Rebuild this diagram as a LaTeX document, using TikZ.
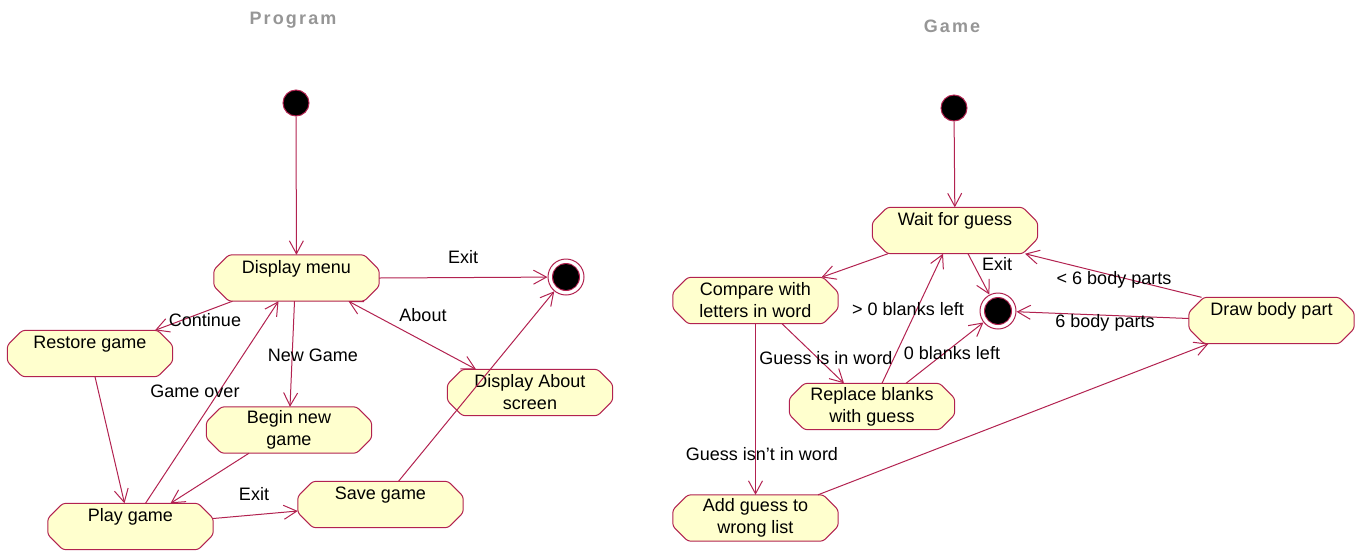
\documentclass[tikz,border=0pt]{standalone}
\usepackage{fontspec}
\setmainfont{Liberation Sans}
\usetikzlibrary{arrows.meta,backgrounds}
\definecolor{edgec}{RGB}{178,34,80}
\definecolor{fillc}{RGB}{255,255,206}
\definecolor{titlec}{RGB}{150,150,150}
\begin{document}
\begin{tikzpicture}[x=1pt,y=-1pt,
  font=\fontsize{18}{22}\selectfont,
  statebox/.style={rectangle, minimum width=165pt, minimum height=46pt,
    inner sep=0pt, align=center},
  oneline/.style={statebox, text height=13pt, text depth=23pt},
  twoline/.style={statebox, yshift=-1.5pt},
  stateshape/.style={draw=edgec, fill=fillc, line width=1pt, rounded corners=3pt},
  initdot/.style={circle, draw=edgec, fill=black, line width=1pt, minimum size=26pt, inner sep=0pt},
  finaldot/.style={circle, draw=edgec, fill=white, line width=1pt, minimum size=36pt, inner sep=0pt,
    path picture={\fill[edgec] (path picture bounding box.center) circle (14pt);
                  \fill[black] (path picture bounding box.center) circle (13pt);}},
  edge/.style={draw=edgec, line width=1pt, -{Straight Barb[length=13pt,width=14pt]}},
  lbl/.style={inner sep=0pt, text=black},
  titlelbl/.style={inner sep=0pt, text=titlec, font=\bfseries\fontsize{18}{22}\selectfont\addfontfeature{LetterSpace=12}}
]
\useasboundingbox (0,0) rectangle (1358,550);

% ---------- Program ----------
\node[titlelbl] (tProg) at (293,20) {Program};
\node[initdot] (i1) at (296,103) {};
\node[finaldot] (f1) at (566,277) {};
\node[oneline] (dm) at (296.5,278) {Display menu};
\node[oneline] (rg) at (90,353.5) {Restore game};
\node[twoline] (bn) at (289,428.5) {Begin new\\game};
\node[twoline] (da) at (530,391) {Display About\\screen};
\node[oneline] (pg) at (130.5,526.5) {Play game};
\node[oneline] (sg) at (380.5,504.5) {Save game};

% ---------- Game ----------
\node[titlelbl] (tGame) at (952,26) {Game};
\node[initdot] (i2) at (954,108) {};
\node[finaldot] (f2) at (998,311) {};
\node[oneline] (wg) at (955,230.5) {Wait for guess};
\node[twoline] (cw) at (755.5,299) {Compare with\\letters in word};
\node[oneline] (db) at (1271.5,320.5) {Draw body part};
\node[twoline] (rb) at (872,405) {Replace blanks\\with guess};
\node[twoline] (ag) at (755.5,516.5) {Add guess to\\wrong list};

\begin{pgfonlayer}{background}
\foreach \n in {dm,rg,bn,da,pg,sg,wg,cw,db,rb,ag}{
  \draw[stateshape] ([xshift=15pt]\n.north west) -- ([xshift=-15pt]\n.north east)
    -- ([yshift=-15pt]\n.north east) -- ([yshift=15pt]\n.south east)
    -- ([xshift=-15pt]\n.south east) -- ([xshift=15pt]\n.south west)
    -- ([yshift=15pt]\n.south west) -- ([yshift=-15pt]\n.north west) -- cycle;
}
\end{pgfonlayer}

\draw[edge] (i1) -- (dm);
\draw[edge] (dm.east) -- (f1);
\draw[edge] ([xshift=-64pt]dm.south) -- ([xshift=65pt]rg.north);
\draw[edge] ([xshift=-2pt]dm.south) -- ([xshift=1pt]bn.north);
\draw[edge,{Straight Barb[length=13pt,width=14pt]}-{Straight Barb[length=13pt,width=14pt]}] ([xshift=52pt]dm.south) -- ([xshift=-54pt]da.north);
\draw[edge] ([xshift=5pt]rg.south) -- ([xshift=-6pt]pg.north);
\draw[edge] ([xshift=-40pt]bn.south) -- ([xshift=40pt]pg.north);
\draw[edge] ([xshift=15pt]pg.north) -- ([xshift=-18pt]dm.south);
\draw[edge] ([yshift=8pt]pg.east) -- ([yshift=-6.5pt]sg.west);
\draw[edge] ([xshift=18pt]sg.north) -- (f1);

\node[lbl] (l1) at (463,257) {Exit};
\node[lbl] (l2) at (205,320) {Continue};
\node[lbl] (l3) at (313,355) {New Game};
\node[lbl] (l4) at (423,315) {About};
\node[lbl] (l5) at (195,391) {Game over};
\node[lbl] (l6) at (254,494) {Exit};

\draw[edge] (i2) -- (wg);
\draw[edge] ([xshift=-67pt]wg.south) -- ([xshift=66pt]cw.north);
\draw[edge] ([xshift=13pt]wg.south) -- (f2);
\draw[edge] ([xshift=26.5pt]cw.south) -- ([xshift=-28pt]rb.north);
\draw[edge] (cw.south) -- (ag.north);
\draw[edge] ([xshift=10pt]rb.north) -- ([xshift=-12pt]wg.south);
\draw[edge] ([xshift=34pt]rb.north) -- (f2);
\draw[edge] ([xshift=62.5pt]ag.north) -- ([xshift=-63pt]db.south);
\draw[edge] ([xshift=-70pt]db.north) -- ([xshift=70pt]wg.south);
\draw[edge] ([yshift=2pt]db.west) -- (f2);

\node[lbl] (m1) at (997,264) {Exit};
\node[lbl] (m2) at (826,358) {Guess is in word};
\node[lbl] (m3) at (762,454) {Guess isn't in word};
\node[lbl] (m4) at (908,309) {> 0 blanks left};
\node[lbl] (m5) at (952,353) {0 blanks left};
\node[lbl] (m6) at (1114,280) {< 6 body parts};
\node[lbl] (m7) at (1105,323) {6 body parts};
\end{tikzpicture}
\end{document}
